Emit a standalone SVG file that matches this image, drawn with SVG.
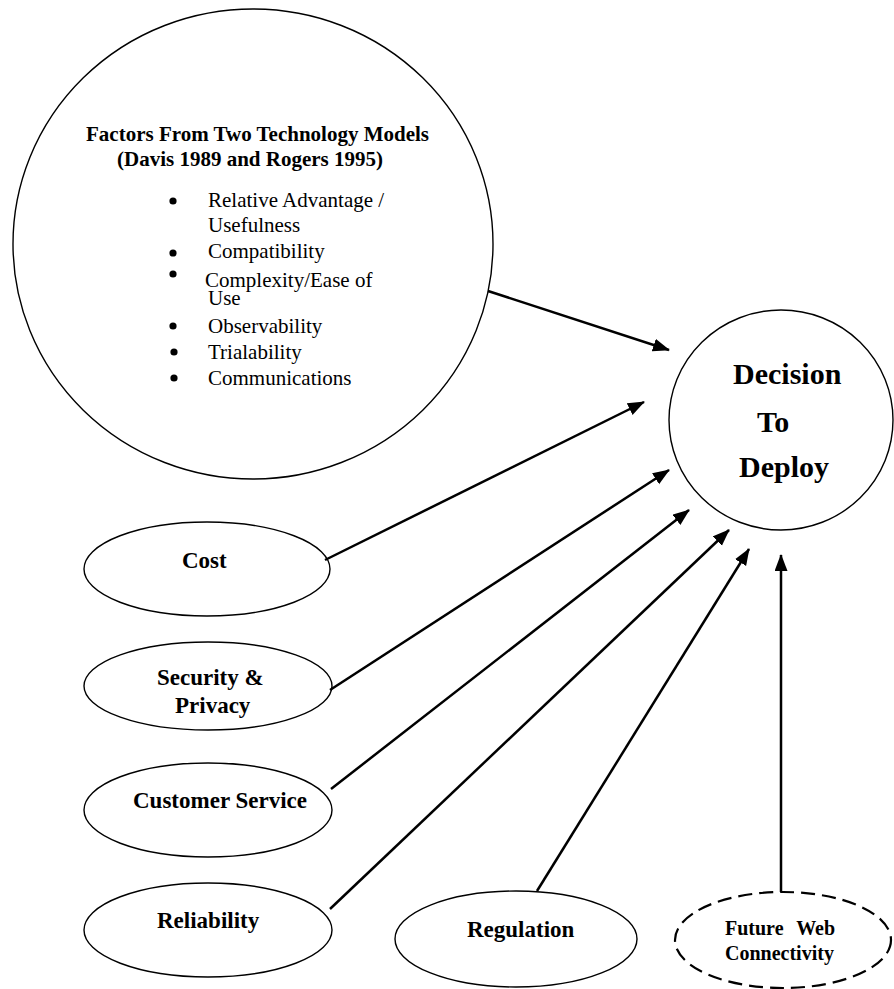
<svg xmlns="http://www.w3.org/2000/svg" width="894" height="989" viewBox="0 0 894 989">
<style>
.shape{fill:#fff;stroke:#000;stroke-width:1.4}
.dash{fill:#fff;stroke:#000;stroke-width:2.2;stroke-dasharray:14 7}
.lbl{font-family:"Liberation Serif","Times New Roman",serif;font-weight:bold;font-size:23px;fill:#000}
.big{font-family:"Liberation Serif","Times New Roman",serif;font-weight:bold;font-size:30px;fill:#000}
.ttl{font-family:"Liberation Serif","Times New Roman",serif;font-weight:bold;font-size:21px;fill:#000}
.item{font-family:"Liberation Serif","Times New Roman",serif;font-size:21px;fill:#000}
.sm{font-family:"Liberation Serif","Times New Roman",serif;font-weight:bold;font-size:20px;fill:#000}
.conn line{stroke:#000;stroke-width:2.5;marker-end:url(#ah)}
</style>
<defs>
<marker id="ah" markerUnits="userSpaceOnUse" markerWidth="18" markerHeight="14" refX="16" refY="6.5" orient="auto">
<path d="M0,0 L17,6.5 L0,13 z" fill="#000"/>
</marker>
</defs>
<rect width="894" height="989" fill="#fff"/>
<g id="factors">
<ellipse class="shape" cx="253" cy="244" rx="240" ry="235"/>
<text class="ttl" x="86" y="141">Factors From Two Technology Models</text>
<text class="ttl" x="117" y="166">(Davis 1989 and Rogers 1995)</text>
<g fill="#000">
<circle cx="173" cy="201" r="3.6"/>
<circle cx="173" cy="253" r="3.6"/>
<circle cx="173" cy="274" r="3.6"/>
<circle cx="173" cy="326" r="3.6"/>
<circle cx="174" cy="352" r="3.6"/>
<circle cx="174" cy="378" r="3.6"/>
</g>
<text class="item" x="208" y="207">Relative Advantage /</text>
<text class="item" x="208" y="232">Usefulness</text>
<text class="item" x="208" y="258">Compatibility</text>
<text class="item" x="205" y="287">Complexity/Ease of</text>
<text class="item" x="208" y="305">Use</text>
<text class="item" x="208" y="333">Observability</text>
<text class="item" x="208" y="359">Trialability</text>
<text class="item" x="208" y="385">Communications</text>
</g>
<g id="decision">
<ellipse class="shape" cx="781" cy="420" rx="112" ry="110"/>
<text class="big" x="733" y="384">Decision</text>
<text class="big" x="757" y="432">To</text>
<text class="big" x="739" y="477">Deploy</text>
</g>
<g id="cost">
<ellipse class="shape" cx="207" cy="569" rx="123" ry="47"/>
<text class="lbl" x="182" y="568">Cost</text>
</g>
<g id="security">
<ellipse class="shape" cx="208" cy="686" rx="124" ry="44"/>
<text class="lbl" x="157" y="685">Security &amp;</text>
<text class="lbl" x="175" y="713">Privacy</text>
</g>
<g id="customer">
<ellipse class="shape" cx="208" cy="810" rx="124" ry="47"/>
<text class="lbl" x="133" y="808">Customer Service</text>
</g>
<g id="reliability">
<ellipse class="shape" cx="208" cy="930" rx="124" ry="47"/>
<text class="lbl" x="157" y="928">Reliability</text>
</g>
<g id="regulation">
<ellipse class="shape" cx="516" cy="939" rx="121" ry="48"/>
<text class="lbl" x="467" y="937">Regulation</text>
</g>
<g id="future">
<ellipse class="dash" cx="783" cy="940" rx="108" ry="48"/>
<text class="sm" x="725" y="935" word-spacing="8">Future Web</text>
<text class="sm" x="725" y="960">Connectivity</text>
</g>
<g id="connectors" class="conn">
<line x1="488" y1="291" x2="669" y2="350"/>
<line x1="325" y1="560" x2="644" y2="402"/>
<line x1="330" y1="690" x2="669" y2="470"/>
<line x1="331" y1="789" x2="689" y2="510"/>
<line x1="330" y1="909" x2="729" y2="530"/>
<line x1="537" y1="891" x2="749" y2="549"/>
<line x1="781" y1="892" x2="781" y2="555"/>
</g>
</svg>
